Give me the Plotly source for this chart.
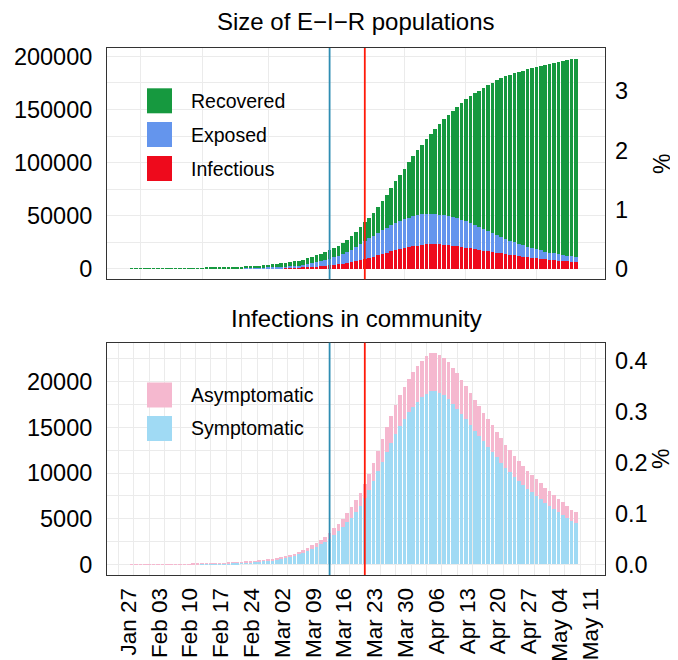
import pandas as pd
import plotly.graph_objects as go

# ---------------------------------------------------------------------------
# Data (one bar per day, 2020-01-30 .. 2020-05-11)

start_date = "2020-01-30"
end_date = "2020-05-11"
population = 5_580_000

infectious = [
    10, 12, 14, 16, 19, 22, 25, 29, 33, 38,
    43, 49, 56, 64, 73, 83, 94, 106, 120, 135,
    152, 171, 192, 215, 240, 268, 299, 333, 371, 413,
    460, 512, 570, 635, 710, 800, 910, 1040, 1190, 1400,
    1600, 1830, 2080, 2370, 2700, 3100, 3600, 4200, 4900, 5600,
    6400, 7300, 8300, 9300, 10400, 11500, 12700, 13900, 15100, 16300,
    17400, 18500, 19500, 20400, 21200, 21900, 22500, 22900, 23100, 23100,
    22900, 22600, 22200, 21700, 21100, 20500, 19900, 19300, 18600, 17900,
    17200, 16500, 15800, 15100, 14500, 13800, 13200, 12600, 12000, 11400,
    10900, 10400, 9900, 9500, 9000, 8600, 8200, 7800, 7400, 7000,
    6700, 6300,
]
exposed = [
    15, 18, 21, 24, 28, 33, 38, 44, 50, 57,
    65, 74, 84, 96, 109, 124, 141, 160, 181, 205,
    231, 260, 292, 328, 368, 412, 461, 515, 575, 641,
    715, 797, 888, 990, 1100, 1230, 1380, 1560, 1800, 2200,
    2700, 3300, 4000, 4750, 5550, 6400, 7300, 8200, 9200, 10300,
    11600, 13200, 15000, 16800, 18300, 19500, 20800, 22200, 23600, 24700,
    25700, 26500, 27200, 27800, 28300, 28600, 28800, 28800, 28600, 28300,
    27900, 27600, 27300, 26900, 26300, 25600, 24700, 23600, 22500, 21300,
    20200, 19100, 18000, 16800, 15600, 14400, 13400, 12500, 11600, 10700,
    9900, 9100, 8400, 7800, 7200, 6700, 6200, 5800, 5500, 5200,
    4900, 4700,
]
recovered = [
    30, 40, 50, 62, 76, 92, 110, 130, 155, 180,
    210, 245, 285, 330, 380, 435, 495, 560, 630, 710,
    800, 900, 1000, 1110, 1230, 1360, 1500, 1660, 1840, 2040,
    2260, 2500, 2760, 3040, 3340, 3660, 4000, 4360, 4740, 5140,
    5560, 6000, 6480, 7000, 7560, 8160, 8800, 9500, 10300, 11400,
    12600, 14100, 15800, 17600, 19500, 21600, 24300, 27500, 31000, 35000,
    39200, 43500, 47700, 52000, 56400, 61000, 65700, 70500, 75500, 80500,
    85500, 90400, 95300, 100200, 105200, 110200, 115100, 119600, 124000, 128400,
    132800, 137200, 141500, 145500, 149300, 152900, 156100, 159100, 162000, 164500,
    166900, 169200, 171300, 173400, 175400, 177400, 179400, 181300, 182800, 184300,
    185700, 187000,
]
asymptomatic = [
    2, 3, 3, 3, 4, 5, 5, 6, 7, 8,
    9, 10, 12, 13, 15, 17, 19, 22, 24, 27,
    31, 34, 38, 42, 47, 53, 59, 65, 73, 81,
    90, 101, 113, 128, 144, 164, 187, 214, 247, 284,
    328, 374, 427, 484, 549, 621, 711, 801, 900, 1008,
    1125, 1260, 1413, 1584, 1782, 1998, 2232, 2466, 2700, 2916,
    3132, 3330, 3492, 3654, 3780, 3906, 4014, 4104, 4158, 4180,
    4150, 4110, 4040, 3950, 3850, 3740, 3620, 3480, 3360, 3240,
    3130, 3010, 2890, 2770, 2650, 2530, 2420, 2310, 2200, 2110,
    2000, 1920, 1830, 1760, 1660, 1590, 1510, 1430, 1360, 1280,
    1200, 1140,
]
symptomatic = [
    10, 11, 13, 16, 18, 20, 24, 27, 31, 35,
    40, 46, 52, 60, 68, 77, 87, 98, 111, 125,
    139, 156, 174, 194, 215, 239, 266, 297, 330, 368,
    410, 459, 517, 582, 656, 746, 853, 976, 1123, 1296,
    1492, 1706, 1943, 2206, 2501, 2829, 3239, 3649, 4100, 4592,
    5125, 5740, 6437, 7216, 8118, 9102, 10168, 11234, 12300, 13284,
    14268, 15170, 15908, 16646, 17220, 17794, 18286, 18696, 18942, 18920,
    18750, 18490, 18060, 17550, 17050, 16460, 15880, 15220, 14640, 14060,
    13470, 12890, 12310, 11730, 11150, 10570, 10080, 9590, 9100, 8690,
    8200, 7880, 7470, 7140, 6740, 6410, 6090, 5770, 5440, 5120,
    4800, 4560,
]

# event lines (blue, red)
event_dates = ["2020-03-15", "2020-03-23"]
event_colors = ["#2F8DB3", "#FF1A0A"]

# axis ticks
week_ticks = ["2020-01-27", "2020-02-03", "2020-02-10", "2020-02-17", "2020-02-24",
              "2020-03-02", "2020-03-09", "2020-03-16", "2020-03-23", "2020-03-30",
              "2020-04-06", "2020-04-13", "2020-04-20", "2020-04-27", "2020-05-04",
              "2020-05-11"]
week_labels = ["Jan 27", "Feb 03", "Feb 10", "Feb 17", "Feb 24", "Mar 02", "Mar 09",
               "Mar 16", "Mar 23", "Mar 30", "Apr 06", "Apr 13", "Apr 20", "Apr 27",
               "May 04", "May 11"]
top_grid_dates = ["2020-02-01", "2020-02-15", "2020-03-01", "2020-03-15",
                  "2020-04-01", "2020-04-15", "2020-05-01"]
top_yticks = [0, 50000, 100000, 150000, 200000]
top_pct_ticks = [0, 1, 2, 3]
bot_yticks = [0, 5000, 10000, 15000, 20000]
bot_pct_ticks = [0.0, 0.1, 0.2, 0.3, 0.4]

# ---------------------------------------------------------------------------
# Colours / layout helpers

C_REC = "#16993F"
C_EXP = "#6495ED"
C_INF = "#EE0A1C"
C_ASY = "#F5B8CF"
C_SYM = "#A0DAF4"
GRID = "#EBEBEB"
FONT = "Liberation Sans, Arial, Helvetica, sans-serif"

# page body has an 8px margin, so the figure is 8px smaller and everything
# below is laid out in window pixels, shifted by OFF
OFF = 8
W, H = 678 - OFF, 660 - OFF
L, R, T, B = 107 - OFF, 73, 48 - OFF, 85
PW, PH = W - L - R, H - T - B


def px(x):
    return (x - OFF - L) / PW


def py(y):
    return (H - B - (y - OFF)) / PH


dates = pd.date_range(start_date, end_date, freq="D")
half = pd.Timedelta(hours=0.45 * 24)
span = (dates[-1] - dates[0]) + 2 * half
x_range = [dates[0] - half - 0.05 * span, dates[-1] + half + 0.05 * span]

top_max = max(i + e + r for i, e, r in zip(infectious, exposed, recovered))
bot_max = max(a + s for a, s in zip(asymptomatic, symptomatic))
top_range = [-0.05 * top_max, 1.05 * top_max]
bot_range = [-0.05 * bot_max, 1.05 * bot_max]

# ---------------------------------------------------------------------------
# Figure

fig = go.Figure()

for name, vals, col in [("Infectious", infectious, C_INF),
                        ("Exposed", exposed, C_EXP),
                        ("Recovered", recovered, C_REC)]:
    fig.add_trace(go.Bar(x=dates, y=vals, name=name, marker=dict(color=col, line_width=0),
                         xaxis="x", yaxis="y", showlegend=False))

for name, vals, col in [("Symptomatic", symptomatic, C_SYM),
                        ("Asymptomatic", asymptomatic, C_ASY)]:
    fig.add_trace(go.Bar(x=dates, y=vals, name=name, marker=dict(color=col, line_width=0),
                         xaxis="x2", yaxis="y2", showlegend=False))

# percentage axes need something attached to them to be drawn
top_pct = [(i + e + r) / population * 100 for i, e, r in zip(infectious, exposed, recovered)]
bot_pct = [(a + s) / population * 100 for a, s in zip(asymptomatic, symptomatic)]
fig.add_trace(go.Scatter(x=dates, y=top_pct, xaxis="x", yaxis="y3", mode="lines",
                         line=dict(width=0), opacity=0, hoverinfo="skip", showlegend=False))
fig.add_trace(go.Scatter(x=dates, y=bot_pct, xaxis="x2", yaxis="y4", mode="lines",
                         line=dict(width=0), opacity=0, hoverinfo="skip", showlegend=False))

shapes = []
for d, col in zip(event_dates, event_colors):
    for xr, yr in [("x", "y domain"), ("x2", "y2 domain")]:
        shapes.append(dict(type="line", xref=xr, yref=yr, x0=d, x1=d, y0=0, y1=1,
                           line=dict(color=col, width=1.8)))

annotations = []
# hand drawn legends (ggplot style keys)
legend_rows = [
    [("Recovered", C_REC, 100.8), ("Exposed", C_EXP, 134.5), ("Infectious", C_INF, 168.5)],
    [("Asymptomatic", C_ASY, 395.0), ("Symptomatic", C_SYM, 428.5)],
]
for rows in legend_rows:
    for label, col, yc in rows:
        shapes.append(dict(type="rect", xref="paper", yref="paper",
                           x0=px(147), x1=px(172), y0=py(yc + 12.5), y1=py(yc - 12.5),
                           fillcolor=col, line_width=0))
        annotations.append(dict(text=label, xref="paper", yref="paper", x=px(189), y=py(yc),
                                xanchor="left", yanchor="middle", showarrow=False,
                                font=dict(size=19.5, color="#000000")))

for title, yc in [("Size of E\u2212I\u2212R populations", 21.5), ("Infections in community", 318.5)]:
    annotations.append(dict(text=title, xref="paper", yref="paper", x=0.5, y=py(yc),
                            xanchor="center", yanchor="middle", showarrow=False,
                            borderpad=0, font=dict(size=24, color="#000000")))

axis_common = dict(showline=True, mirror=True, linecolor="#333333", linewidth=1,
                   zeroline=False, ticks="", automargin=False,
                   tickfont=dict(size=23.5, color="#000000"))
pct_common = dict(zeroline=False, ticks="", automargin=False, showgrid=False,
                  tickfont=dict(size=23.5, color="#000000"))

fig.update_layout(
    width=W, height=H,
    margin=dict(l=L, r=R, t=T, b=B),
    paper_bgcolor="white", plot_bgcolor="white",
    font=dict(family=FONT, color="#000000"),
    barmode="stack", bargap=0.15,
    showlegend=False,
    shapes=shapes, annotations=annotations,
    xaxis=dict(domain=[0, 1], anchor="y", type="date", range=x_range,
               tickmode="array", tickvals=top_grid_dates, showticklabels=False,
               showgrid=True, gridcolor=GRID, gridwidth=1.2, **axis_common),
    yaxis=dict(domain=[py(279.3), 1], anchor="x", range=top_range, tickformat="d",
               tickmode="array", tickvals=top_yticks, showgrid=True, gridcolor=GRID,
               gridwidth=1.2, ticklabelstandoff=9,
               minor=dict(dtick=25000, showgrid=True, gridcolor=GRID, gridwidth=0.8),
               **axis_common),
    yaxis3=dict(overlaying="y", side="right", anchor="x",
                range=[v / population * 100 for v in top_range],
                tickmode="array", tickvals=top_pct_ticks, ticklabelstandoff=9,
                title=dict(text="%", font=dict(size=23), standoff=26), **pct_common),
    xaxis2=dict(domain=[0, 1], anchor="y2", type="date", range=x_range,
                tickmode="array", tickvals=week_ticks, ticktext=week_labels,
                tickangle=-90, ticklabelshift=10, ticklabelstandoff=3,
                showgrid=True, gridcolor=GRID, gridwidth=1.2,
                minor=dict(dtick=3.5 * 86400000, tick0="2020-01-27", showgrid=True,
                           gridcolor=GRID, gridwidth=0.8),
                **{**axis_common, "tickfont": dict(size=22.5, color="#000000")}),
    yaxis2=dict(domain=[0, py(342.7)], anchor="x2", range=bot_range, tickformat="d",
                tickmode="array", tickvals=bot_yticks, showgrid=True, gridcolor=GRID,
                gridwidth=1.2, ticklabelstandoff=9,
                minor=dict(dtick=2500, showgrid=True, gridcolor=GRID, gridwidth=0.8),
                **axis_common),
    yaxis4=dict(overlaying="y2", side="right", anchor="x2",
                range=[v / population * 100 for v in bot_range],
                tickmode="array", tickvals=bot_pct_ticks, tickformat=".1f",
                ticklabelstandoff=9,
                title=dict(text="%", font=dict(size=23), standoff=2), **pct_common),
)

fig.write_html("out.html")
